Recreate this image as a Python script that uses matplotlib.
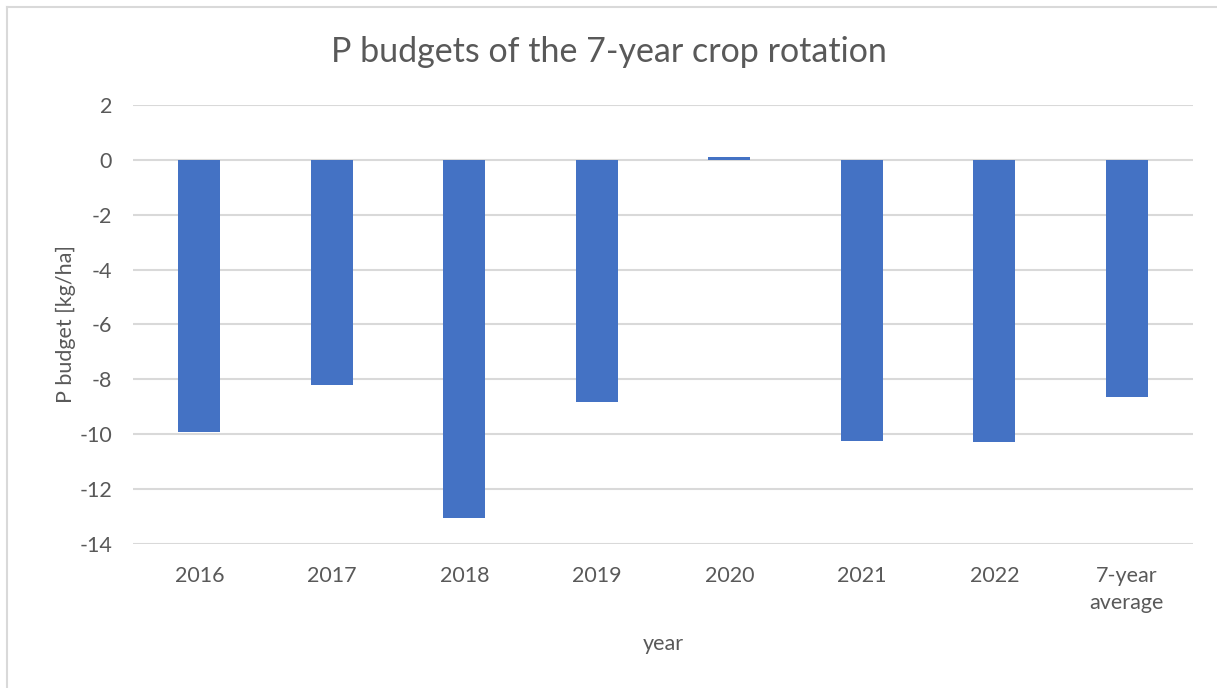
import matplotlib
matplotlib.use("Agg")
import matplotlib.pyplot as plt
import numpy as np
from matplotlib.lines import Line2D

years = ["2016", "2017", "2018", "2019", "2020", "2021", "2022", "7-year\naverage"]
p_budget = [-9.92, -8.20, -13.05, -8.82, 0.12, -10.24, -10.28, -8.64]

TEXT = "#595959"
GRID = "#d9d9d9"
BAR = "#4472c4"

plt.rcParams["font.family"] = ["Lato", "DejaVu Sans"]
plt.rcParams["axes.unicode_minus"] = False

fig = plt.figure(figsize=(12.17, 6.88), dpi=100)
ax = fig.add_axes([0.1093, 0.2093, 0.8710, 0.6381])

x = np.arange(len(years))
ax.bar(x, p_budget, width=0.32, color=BAR, zorder=3)

ax.set_xlim(-0.5, len(years) - 0.5)
ax.set_ylim(-14, 2)
ax.set_yticks(np.arange(-14, 3, 2))
ax.set_xticks(x)
ax.set_xticklabels(years, linespacing=1.45)
ax.yaxis.grid(True, color=GRID, lw=1.5)
ax.set_axisbelow(True)
for s in ax.spines.values():
    s.set_visible(False)
ax.tick_params(length=0, labelsize=15.5, colors=TEXT)
ax.tick_params(axis="x", pad=16)
ax.tick_params(axis="y", pad=15)

ax.set_xlabel("year", fontsize=15.5, color=TEXT)
ax.xaxis.set_label_coords(0.5, -0.205)
ax.set_ylabel("P budget [kg/ha]", fontsize=15.5, color=TEXT)
ax.yaxis.set_label_coords(-0.054, 0.5)
fig.text(0.5, 0.924, "P budgets of the 7-year crop rotation", ha="center",
         va="center", fontsize=24.5, color=TEXT)

# chart area border
fig.add_artist(Line2D([7 / 1217, 1], [1 - 7 / 688, 1 - 7 / 688],
                      color=GRID, lw=1.5, transform=fig.transFigure))
fig.add_artist(Line2D([7 / 1217, 7 / 1217], [0, 1 - 7 / 688],
                      color=GRID, lw=1.5, transform=fig.transFigure))

fig.savefig("out.png", dpi=100)
